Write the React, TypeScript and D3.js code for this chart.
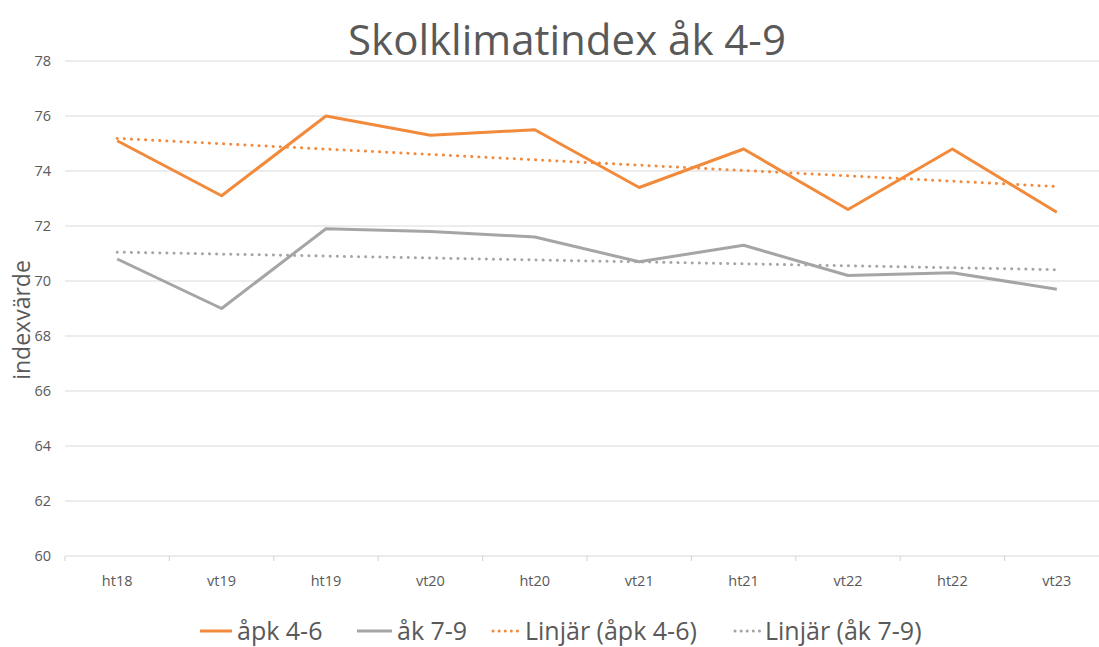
import { scaleBand, scaleLinear, line, range } from "d3";

const categories = ["ht18", "vt19", "ht19", "vt20", "ht20", "vt21", "ht21", "vt22", "ht22", "vt23"];
const apk46 = [75.1, 73.1, 76.0, 75.3, 75.5, 73.4, 74.8, 72.6, 74.8, 72.5];
const ak79 = [70.8, 69.0, 71.9, 71.8, 71.6, 70.7, 71.3, 70.2, 70.3, 69.7];
const yTicks = [60, 62, 64, 66, 68, 70, 72, 74, 76, 78];
const legendLabels = ["åpk 4-6", "åk 7-9", "Linjär (åpk 4-6)", "Linjär (åk 7-9)"];

const ORANGE = "#F28A3C";
const GRAY = "#A5A5A5";
const TEXT = "#595959";
const FONT = "'Open Sans', 'Noto Sans', sans-serif";

// Excel-style linear trend (least squares over category index)
const trend = (vals: number[]) => {
  const n = vals.length;
  const xs = range(n);
  const mx = (n - 1) / 2;
  const my = vals.reduce((a, b) => a + b, 0) / n;
  const sxy = xs.reduce((a, x, i) => a + (x - mx) * (vals[i] - my), 0);
  const sxx = xs.reduce((a, x) => a + (x - mx) * (x - mx), 0);
  const slope = sxy / sxx;
  return xs.map((x) => my + slope * (x - mx));
};

const App = () => {
  const width = 1099;
  const height = 647;
  const left = 65;

  const xScale = scaleBand().domain(categories).range([left, left + 10 * 104.4]);
  const yScale = scaleLinear().domain([60, 78]).range([556, 61]);

  const xc = (i: number) => xScale(categories[i])! + xScale.bandwidth() / 2;
  const path = line<number>()
    .x((_, i) => xc(i))
    .y((d) => yScale(d));

  const series = [
    { values: apk46, color: ORANGE, dotted: false },
    { values: ak79, color: GRAY, dotted: false },
    { values: trend(apk46), color: ORANGE, dotted: true },
    { values: trend(ak79), color: GRAY, dotted: true },
  ];

  const legendPos = [
    { x1: 200, x2: 232, tx: 237 },
    { x1: 357, x2: 392, tx: 397 },
    { x1: 493, x2: 521, tx: 525 },
    { x1: 735, x2: 761, tx: 765 },
  ];

  return (
    <svg width={width} height={height} style={{ position: "absolute", left: 0, top: 0, background: "#fff" }} fontFamily={FONT}>
      <text x={567} y={55} textAnchor="middle" fontSize={42} fill={TEXT}>
        Skolklimatindex åk 4-9
      </text>

      {yTicks.map((t) => (
        <g key={t}>
          <line x1={left} x2={width} y1={yScale(t)} y2={yScale(t)} stroke="#D9D9D9" strokeWidth={1.2} />
          <text x={51} y={yScale(t) + 5} textAnchor="end" fontSize={14.5} fill={TEXT}>
            {t}
          </text>
        </g>
      ))}

      {range(categories.length + 1).map((i) => {
        const x = left + i * xScale.bandwidth();
        return <line key={i} x1={x} x2={x} y1={yScale(60)} y2={yScale(60) + 5} stroke="#D9D9D9" strokeWidth={1.2} />;
      })}

      {categories.map((c, i) => (
        <text key={c} x={xc(i)} y={586} textAnchor="middle" fontSize={14.5} fill={TEXT}>
          {c}
        </text>
      ))}

      <text transform="translate(30,320) rotate(-90)" textAnchor="middle" fontSize={23} fill={TEXT}>
        indexvärde
      </text>

      {series.map((s, i) => (
        <path
          key={i}
          d={path(s.values)!}
          fill="none"
          stroke={s.color}
          strokeWidth={3}
          strokeDasharray={s.dotted ? "0.1 7" : undefined}
          strokeLinecap={s.dotted ? "round" : "butt"}
          strokeLinejoin="round"
        />
      ))}

      {legendLabels.map((label, i) => {
        const s = series[i];
        const p = legendPos[i];
        return (
          <g key={label}>
            <line
              x1={p.x1}
              x2={p.x2}
              y1={631}
              y2={631}
              stroke={s.color}
              strokeWidth={3}
              strokeDasharray={s.dotted ? "0.1 6" : undefined}
              strokeLinecap={s.dotted ? "round" : "butt"}
            />
            <text x={p.tx} y={640} fontSize={25} fill={TEXT}>
              {label}
            </text>
          </g>
        );
      })}
    </svg>
  );
};

export default App;
